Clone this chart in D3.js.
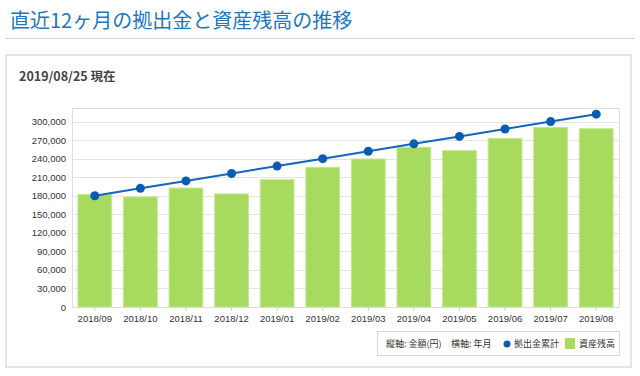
<!doctype html>
<html>

<head>
    <meta charset="utf-8">
    <title>推移</title>
    <style>
        body { margin: 0; background: #fff; }
        svg { display: block; }
    </style>
    <script src="https://cdn.jsdelivr.net/npm/d3@7"></script>
</head>

<body>
    <svg width="640" height="376"></svg>
    <script>
    var months = ["2018/09", "2018/10", "2018/11", "2018/12", "2019/01", "2019/02",
                  "2019/03", "2019/04", "2019/05", "2019/06", "2019/07", "2019/08"];
    // 資産残高 (bars)
    var assets = [182000, 178000, 192500, 183000, 206000, 226000,
                  239500, 258500, 253000, 273000, 290500, 288500];
    // 拠出金累計 (line)
    var contrib = [180000, 192000, 204000, 216000, 228000, 240000,
                   252000, 264000, 276000, 288000, 300000, 312000];
    var yTicks = [0, 30000, 60000, 90000, 120000, 150000, 180000, 210000, 240000, 270000, 300000];

    var svg = d3.select("svg"),
        jp = "'Noto Sans CJK JP', 'Noto Sans', sans-serif",
        sans = "'Liberation Sans', Arial, sans-serif";

    // header
    svg.append("text")
        .attr("x", 10).attr("y", 28)
        .attr("font-family", jp).attr("font-size", 20)
        .attr("fill", "#1b78c0")
        .text("直近12ヶ月の拠出金と資産残高の推移");
    svg.append("line")
        .attr("x1", 5).attr("x2", 635).attr("y1", 38.5).attr("y2", 38.5)
        .attr("stroke", "#d4d4d4");

    // card
    svg.append("rect")
        .attr("x", 6).attr("y", 55).attr("width", 625).attr("height", 312)
        .attr("fill", "#fff").attr("stroke", "#e6e6e6").attr("stroke-width", 2);
    svg.append("text")
        .attr("x", 19).attr("y", 81)
        .attr("font-family", jp).attr("font-size", 12.5).attr("font-weight", "bold")
        .attr("fill", "#444")
        .text("2019/08/25 現在");

    var pLeft = 72, pRight = 619, pTop = 108, pBottom = 307;

    var x = d3.scaleBand().domain(months).range([pLeft, pRight]).paddingInner(0.26).paddingOuter(0.13);
    var y = d3.scaleLinear().domain([0, 322000]).range([pBottom, pTop]);

    // grid
    svg.append("g").selectAll("line").data(yTicks).enter().append("line")
        .attr("x1", pLeft).attr("x2", pRight)
        .attr("y1", function(d) { return Math.round(y(d)) + 0.5; })
        .attr("y2", function(d) { return Math.round(y(d)) + 0.5; })
        .attr("stroke", "#e4e4e4");
    svg.append("rect")
        .attr("x", pLeft + 0.5).attr("y", pTop + 0.5)
        .attr("width", pRight - pLeft).attr("height", pBottom - pTop)
        .attr("fill", "none").attr("stroke", "#dedede");

    // y axis
    var yAxis = svg.append("g")
        .attr("transform", "translate(" + pLeft + ",0)")
        .call(d3.axisLeft(y).tickValues(yTicks).tickFormat(d3.format(",")).tickSize(0).tickPadding(6));
    yAxis.select(".domain").remove();
    yAxis.selectAll("text").attr("font-family", sans).attr("font-size", 9.5).attr("fill", "#333");

    // bars
    svg.append("g").selectAll("rect").data(assets).enter().append("rect")
        .attr("x", function(d, i) { return x(months[i]); })
        .attr("y", function(d) { return y(d); })
        .attr("width", x.bandwidth())
        .attr("height", function(d) { return pBottom - y(d); })
        .attr("fill", "#a8da5f")
        .attr("stroke", "#c4e890").attr("stroke-width", 1);

    // x axis
    var xAxis = svg.append("g")
        .attr("transform", "translate(0," + pBottom + ")")
        .call(d3.axisBottom(x).tickSize(4).tickPadding(4));
    xAxis.select(".domain").remove();
    xAxis.selectAll("line").attr("stroke", "#ccc");
    xAxis.selectAll("text").attr("font-family", sans).attr("font-size", 9.5).attr("fill", "#333");

    // line
    var cx = function(d, i) { return x(months[i]) + x.bandwidth() / 2; };
    svg.append("path")
        .datum(contrib)
        .attr("d", d3.line().x(cx).y(function(d) { return y(d); }))
        .attr("fill", "none").attr("stroke", "#1465bf").attr("stroke-width", 2);
    svg.append("g").selectAll("circle").data(contrib).enter().append("circle")
        .attr("cx", cx).attr("cy", function(d) { return y(d); })
        .attr("r", 4.5).attr("fill", "#0a5cb3");

    // legend
    var lg = svg.append("g");
    lg.append("rect")
        .attr("x", 377.5).attr("y", 331.5).attr("width", 242).attr("height", 24)
        .attr("fill", "#fff").attr("stroke", "#d8d8d8");
    var ly = 347;
    lg.append("text").attr("x", 386).attr("y", ly)
        .attr("font-family", jp).attr("font-size", 9).attr("fill", "#333")
        .text("縦軸: 金額(円)");
    lg.append("text").attr("x", 451).attr("y", ly)
        .attr("font-family", jp).attr("font-size", 9).attr("fill", "#333")
        .text("横軸: 年月");
    lg.append("circle").attr("cx", 507).attr("cy", 344).attr("r", 3.5).attr("fill", "#0a5cb3");
    lg.append("text").attr("x", 514).attr("y", ly)
        .attr("font-family", jp).attr("font-size", 9).attr("fill", "#333")
        .text("拠出金累計");
    lg.append("rect").attr("x", 565).attr("y", 338).attr("width", 10).attr("height", 11).attr("fill", "#a8da5f");
    lg.append("text").attr("x", 579).attr("y", ly)
        .attr("font-family", jp).attr("font-size", 9).attr("fill", "#333")
        .text("資産残高");
    </script>
</body>

</html>
